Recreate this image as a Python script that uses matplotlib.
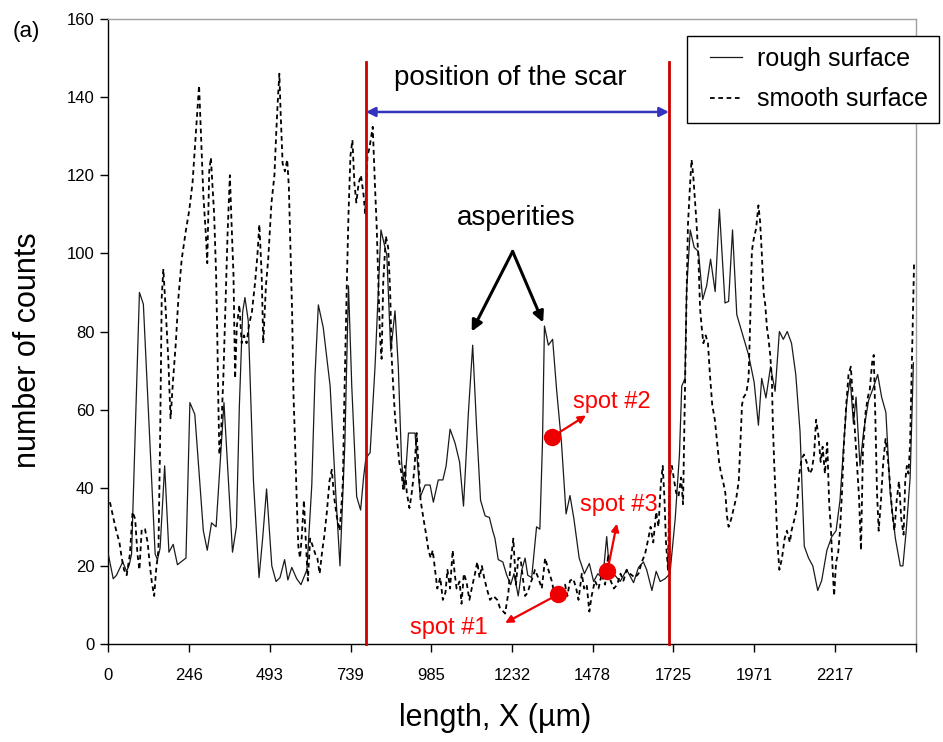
import matplotlib
matplotlib.use("Agg")
import matplotlib.pyplot as plt
from matplotlib.legend_handler import HandlerLine2D

plt.rcParams['font.family'] = ['Liberation Sans', 'DejaVu Sans']

# ---------------- data ----------------
rough_x = [0, 15, 25, 44, 56, 64, 71, 95, 107, 143, 150, 158, 172, 185, 198, 211, 237, 249, 264, 290,
           302, 315, 329, 353, 379, 391, 400, 410, 417, 427, 443, 460, 471, 483, 499, 512, 524, 538, 548,
           560, 575, 588, 606, 621, 631, 641, 656, 677, 692, 707, 722, 733, 743, 758, 770, 779, 786, 799,
           814, 832, 850, 862, 875, 885, 895, 904, 916, 936, 952, 967, 982, 992, 1007, 1021, 1031, 1043,
           1058, 1072, 1084, 1099, 1112, 1124, 1136, 1150, 1163, 1173, 1180, 1190, 1204, 1216, 1228, 1238,
           1251, 1262, 1272, 1280, 1292, 1307, 1317, 1325, 1331, 1343, 1356, 1368, 1383, 1397, 1409, 1421,
           1437, 1453, 1468, 1481, 1494, 1509, 1521, 1531, 1546, 1562, 1582, 1603, 1618, 1633, 1643, 1659,
           1672, 1684, 1699, 1714, 1730, 1743, 1750, 1760, 1765, 1776, 1788, 1801, 1814, 1826, 1838, 1852,
           1865, 1882, 1893, 1905, 1918, 1933, 1954, 1971, 1984, 1994, 2007, 2021, 2035, 2048, 2060, 2072,
           2085, 2098, 2111, 2124, 2137, 2150, 2165, 2177, 2193, 2208, 2221, 2233, 2243, 2254, 2264, 2274,
           2282, 2294, 2305, 2320, 2335, 2348, 2360, 2373, 2386, 2402, 2417, 2425, 2435, 2447, 2457]
rough_y = [23, 16.7, 17.6, 21, 18.6, 20.3, 23, 90, 87, 23, 21.6, 24.5, 45.6, 23.5, 25.5, 20.3, 22, 61.8, 58.8, 29,
           24, 31, 30, 61.8, 23.5, 30, 61, 85, 88.7, 82.8, 41.7, 17, 27, 39.7, 20, 16, 17, 21.6, 16.4,
           19.6, 16.7, 15.2, 19, 40.7, 69, 86.8, 81, 66, 41.7, 20, 51.5, 91.7, 66, 37.7, 34.3, 42.6, 47.5, 49,
           71, 106, 99.5, 75, 85.3, 71, 46.6, 39.7, 54, 54, 37.7, 40.7, 40.7, 36.3, 42, 42, 45.6, 55,
           51.5, 46.6, 35.3, 59.3, 76.5, 55.4, 36.8, 32.8, 32.4, 29, 27, 21.6, 21, 17.6, 15.2, 18,
           12.3, 19, 22, 17.6, 17, 30, 29.4, 51.5, 81.4, 76.5, 78, 65.2, 51.5, 33.3, 38, 32,
           22, 18, 20.6, 16, 18, 16.7, 27.5, 17, 17.6, 16, 19, 15.7, 19.6, 21, 19, 13.7,
           18.6, 16, 16.7, 18, 32, 48.5, 66, 68, 90.7, 106, 101.5, 100.5, 88.2, 91.7, 98.5, 90.2,
           111.3, 87.3, 87.7, 106, 84.3, 80, 74, 67, 56, 68, 63, 71, 64.7, 80, 78, 80,
           77, 69, 54.4, 25, 22, 20, 13.7, 16.2, 24, 27.5, 29, 36.8, 49.5, 62.3, 68, 56.4,
           63.2, 45.6, 54.4, 62.3, 65.7, 69, 63.2, 59.3, 38.7, 27, 20, 20, 29, 42.6, 72]

smooth_x = [5, 15, 23, 34, 41, 48, 56, 66, 74, 82, 89, 95, 102, 112, 120, 127, 133, 140, 146, 153, 158, 163,
            168, 176, 183, 190, 198, 206, 214, 224, 237, 247, 257, 265, 272, 277, 283, 290, 298, 302, 308,
            313, 318, 323, 329, 333, 336, 339, 343, 351, 359, 364, 371, 376, 382, 387, 392, 400, 407, 414,
            422, 430, 438, 448, 455, 461, 468, 473, 481, 488, 498, 507, 512, 517, 522, 526, 532, 539, 546,
            551, 556, 561, 565, 570, 575, 580, 585, 590, 597, 603, 609, 616, 624, 632, 638, 645, 653, 659,
            667, 675, 682, 689, 697, 706, 711, 716, 720, 724, 728, 733, 739, 745, 751, 757, 764, 771, 779,
            784, 791, 797, 807, 814, 819, 824, 829, 834, 839, 847, 854, 860, 865, 870, 875, 880, 888, 895,
            900, 905, 911, 919, 926, 934, 941, 946, 953, 962, 970, 977, 984, 990, 997, 1004, 1013, 1021,
            1029, 1035, 1043, 1051, 1057, 1063, 1072, 1078, 1085, 1093, 1102, 1109, 1119, 1126, 1133, 1140,
            1147, 1155, 1165, 1175, 1187, 1195, 1211, 1221, 1228, 1236, 1244, 1251, 1258, 1265, 1272, 1280,
            1287, 1295, 1302, 1312, 1323, 1333, 1343, 1353, 1363, 1374, 1384, 1394, 1401, 1409, 1419, 1428,
            1435, 1445, 1452, 1460, 1468, 1475, 1485, 1496, 1506, 1516, 1526, 1533, 1543, 1553, 1563, 1572,
            1582, 1592, 1607, 1618, 1628, 1638, 1648, 1655, 1663, 1672, 1679, 1686, 1692, 1697, 1702, 1708,
            1713, 1720, 1727, 1733, 1740, 1748, 1754, 1759, 1764, 1769, 1775, 1780, 1785, 1790, 1795, 1801,
            1806, 1811, 1816, 1823, 1830, 1836, 1843, 1851, 1858, 1864, 1870, 1876, 1883, 1888, 1893, 1901,
            1909, 1917, 1924, 1929, 1934, 1939, 1947, 1954, 1959, 1964, 1969, 1977, 1984, 1989, 1994, 2000,
            2005, 2010, 2015, 2020, 2025, 2028, 2032, 2037, 2042, 2048, 2056, 2064, 2071, 2080, 2085, 2094,
            2101, 2109, 2116, 2123, 2131, 2140, 2147, 2154, 2160, 2167, 2174, 2180, 2187, 2194, 2200, 2205,
            2210, 2215, 2221, 2227, 2233, 2239, 2245, 2252, 2259, 2266, 2272, 2280, 2285, 2291, 2297, 2303,
            2311, 2318, 2324, 2331, 2336, 2341, 2346, 2351, 2358, 2365, 2372, 2379, 2385, 2392, 2399, 2406,
            2413, 2420, 2427, 2432, 2437, 2442, 2447, 2452, 2457, 2459]
smooth_y = [36.3, 32.4, 29.4, 26, 22, 19, 17.6, 23, 33.8, 32, 23, 19, 29.4, 29.4, 26, 20, 15.7, 12.3, 19, 24, 51.5, 88.7,
            96, 84.3, 73, 57.8, 68, 77, 88.7, 98.5, 106, 111, 118, 128, 136.8, 143, 130, 115, 104.4, 97.5, 121,
            124.5, 117, 110, 94.6, 77, 61, 48.5, 51.5, 68, 90.7, 105, 120, 108, 94.6, 68, 81, 86.8, 77, 79,
            77, 82, 84.8, 92.6, 99.5, 107.4, 94.6, 77, 91.7, 98.5, 113, 120, 130, 138.7, 146, 135.8, 123, 121, 124,
            117, 100.5, 84.8, 64.2, 51.5, 36.8, 25, 22, 27, 36.8, 26, 16.2, 27, 25, 23, 22, 18, 24, 27.5,
            33.8, 41.7, 44.6, 37.7, 32.8, 29, 34.8, 41.7, 61.3, 77, 92.6, 110, 125, 129, 118, 113, 118, 120, 115,
            110, 125, 127, 132.4, 117, 107, 92.6, 79, 73, 92.6, 104.4, 101.5, 90.7, 73, 65.2, 58.3, 53.4, 46.6, 43.6,
            39.7, 45.6, 38.7, 34.8, 38.7, 44.6, 54, 46.6, 36.8, 32, 28, 24, 22, 24, 19, 14.2, 17, 11.3,
            13.2, 19, 14.2, 24, 18, 14.2, 16, 10.3, 18, 16, 11.3, 14.2, 18, 21, 17, 20,
            17, 14.2, 11.3, 12.3, 11.3, 9.3, 7.8, 13.2, 21, 27, 15.2, 22, 22, 17, 12.3, 13.2,
            15.2, 17, 19, 17, 14.2, 22, 19, 16.2, 12.3, 11.3, 14.2, 15.2, 12.3, 16.2, 16.7, 14.2,
            11.3, 18, 14.2, 15.2, 8.3, 12.3, 16.2, 14.2, 18, 15.2, 23, 16.2, 14.2, 15.2, 18, 16.2,
            19, 18, 17, 18, 21, 23, 27, 30, 26, 33.8, 30, 40.7, 45.6, 37.7, 26, 19,
            42.6, 45.6, 41.7, 38.7, 37.7, 42.6, 35.8, 61.3, 85.8, 107.4, 117, 124, 120, 114, 108, 98.5,
            85.8, 81, 77, 79, 77, 69, 61.3, 57.4, 51.5, 46.6, 43.6, 41.7, 38.7, 32.8, 30, 32,
            34.8, 37.7, 41.7, 51.5, 61.3, 63.2, 64.2, 68, 82.8, 100.5, 103.4, 106.4, 112.3, 108.3, 100.5, 89.7,
            86.8, 81, 78, 74, 68, 56.4, 46.6, 36.8, 26, 19, 22, 27, 29, 26, 29, 32,
            34.8, 43.6, 47.5, 48.5, 46.6, 43.6, 44.6, 48.5, 57.4, 53.4, 46.6, 50.5, 43.6, 51.5, 35.8, 30,
            20, 12.3, 21, 23, 29, 38.7, 51.5, 61.3, 69, 71, 63.2, 52.5, 45.6, 37.7, 24, 49.5,
            59.3, 63.2, 65.2, 72, 74, 57.4, 38.7, 29, 36.8, 46.6, 52.5, 47.5, 41.7, 33.8, 29, 36.8,
            41.7, 32, 28, 41.7, 45.6, 43.6, 51.5, 71, 90.7, 97.5]

tick_step = 246.4
x_tick_labels = ['0', '246', '493', '739', '985', '1232', '1478', '1725', '1971', '2217', '']
y_ticks = [0, 20, 40, 60, 80, 100, 120, 140, 160]
scar_bounds = [786, 1711]
spots = {'spot #1': (1373, 12.7), 'spot #2': (1354, 53), 'spot #3': (1523, 18.6)}

# ---------------- figure ----------------
W, H = 943, 742
fig = plt.figure(figsize=(W / 100, H / 100), dpi=100)
ax = fig.add_axes([108.3 / W, 1 - 644 / H, (915.7 - 108.3) / W, (644 - 19) / H])

ax.plot(rough_x, rough_y, color='#1a1a1a', lw=0.9, label='rough surface', zorder=3)
ax.plot(smooth_x, smooth_y, color='black', lw=1.3, linestyle=(0, (2.6, 2.0)),
        label='smooth surface', zorder=3)

ax.set_xlim(0, tick_step * 10)
ax.set_ylim(0, 160)
ax.set_xticks([tick_step * k for k in range(11)])
ax.set_xticklabels(x_tick_labels)
ax.set_yticks(y_ticks)
ax.tick_params(axis='x', direction='out', length=6, width=1, pad=11, labelsize=12)
ax.tick_params(axis='y', direction='out', length=6, width=1, pad=4, labelsize=12)
for s in ['left', 'bottom']:
    ax.spines[s].set_color('black')
    ax.spines[s].set_linewidth(1.0)
for s in ['top', 'right']:
    ax.spines[s].set_color('#a0a0a0')
    ax.spines[s].set_linewidth(1.0)

# scar boundaries
for xb in scar_bounds:
    ax.plot([xb, xb], [0, 149], color='#cc0000', lw=2.0, zorder=4, clip_on=False)
ax.annotate('', xy=(scar_bounds[0], 136.2), xytext=(scar_bounds[1], 136.2),
            arrowprops=dict(arrowstyle='<|-|>', color='#3333bb', lw=1.8, mutation_scale=14,
                            shrinkA=0, shrinkB=0), zorder=5)
ax.text(1226, 144.9, 'position of the scar', fontsize=20, ha='center', va='center')

# asperities
ax.text(1244, 109, 'asperities', fontsize=20, ha='center', va='center')
for tip in [(1109, 80), (1327, 82.3)]:
    ax.annotate('', xy=tip, xytext=(1234, 100.5),
                arrowprops=dict(arrowstyle='-|>', color='black', lw=2.2, mutation_scale=16,
                                shrinkA=0, shrinkB=0), zorder=5)

# spots
for name, (sx, sy) in spots.items():
    ax.plot(sx, sy, 'o', color='#ee0000', markersize=11.5, zorder=6)
ax.annotate('', xy=(1458, 58.5), xytext=spots['spot #2'],
            arrowprops=dict(arrowstyle='-|>', color='#ee0000', lw=1.6, mutation_scale=11,
                            shrinkA=6, shrinkB=0), zorder=6)
ax.annotate('', xy=(1211, 5.4), xytext=spots['spot #1'],
            arrowprops=dict(arrowstyle='-|>', color='#ee0000', lw=1.6, mutation_scale=11,
                            shrinkA=6, shrinkB=0), zorder=6)
ax.annotate('', xy=(1552, 30.8), xytext=spots['spot #3'],
            arrowprops=dict(arrowstyle='-|>', color='#ee0000', lw=1.6, mutation_scale=11,
                            shrinkA=6, shrinkB=0), zorder=6)
ax.text(1418, 62, 'spot #2', color='#ff0000', fontsize=17, ha='left', va='center')
ax.text(1440, 35.6, 'spot #3', color='#ff0000', fontsize=17, ha='left', va='center')
ax.text(921, 4.1, 'spot #1', color='#ff0000', fontsize=17, ha='left', va='center')

# legend
leg = ax.legend(loc='upper left', bbox_to_anchor=(687 / W, 1 - 36 / H),
                bbox_transform=fig.transFigure, fontsize=18, frameon=True, fancybox=False,
                edgecolor='black', framealpha=1, borderpad=0.44, labelspacing=0.66,
                handlelength=1.76, handletextpad=0.6, borderaxespad=0,
                handler_map={plt.Line2D: HandlerLine2D(xpad=0.48)})
leg.get_frame().set_linewidth(1.0)

# labels
fig.text(28 / W, 1 - 350 / H, 'number of counts', rotation=90, fontsize=22, ha='center', va='center')
fig.text(495 / W, 1 - 718 / H, 'length, X (µm)', fontsize=22, ha='center', va='center')
fig.text(26 / W, 1 - 31 / H, '(a)', fontsize=16, ha='center', va='center')

fig.savefig('out.png', dpi=100)
